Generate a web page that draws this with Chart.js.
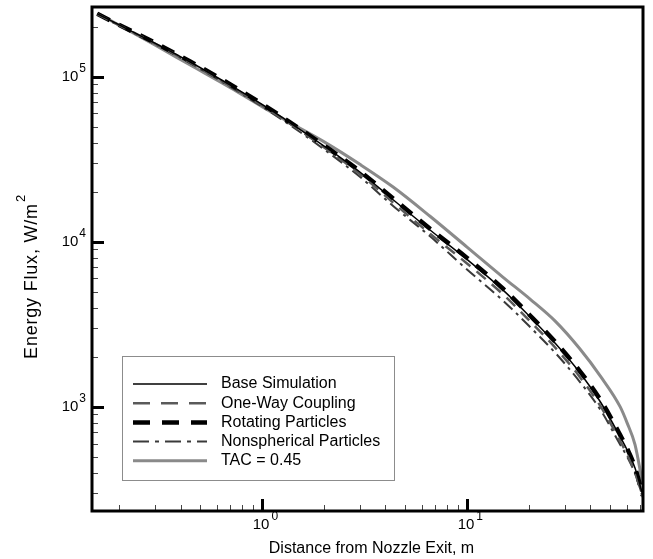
<!DOCTYPE html>
<html>
<head>
<meta charset="utf-8">
<script src="https://cdn.jsdelivr.net/npm/chart.js@4"></script>
<style>
  html, body { margin: 0; padding: 0; background: #fff; }
  #wrap { width: 653px; height: 559px; position: relative; }
</style>
</head>
<body>
<div id="wrap"><canvas id="fluxChart"></canvas></div>
<script>
// distance from nozzle exit, m
const distance = [0.157, 0.2, 0.3, 0.446, 0.7, 1.0, 1.37, 2, 3, 4.36, 6.6, 10, 15, 20.3, 27, 35.5, 45, 55.9, 60.4, 66, 72];

// energy flux, W/m^2
const baseSim      = [241000, 207000, 160000, 123000, 89000, 68000, 52700, 38200, 26500, 18000, 11800, 7830, 5100, 3510, 2420, 1610, 1060, 658, 548, 427, 293];
const oneWay       = [240000, 206000, 159000, 122000, 88000, 67000, 52000, 37500, 25800, 17300, 11200, 7400, 4800, 3300, 2280, 1520, 1000, 620, 515, 400, 285];
const rotating     = [241000, 207000, 161000, 124000, 90000, 68500, 53000, 38500, 26800, 18300, 12000, 8000, 5200, 3580, 2470, 1650, 1090, 675, 560, 430, 290];
const nonspherical = [240000, 205000, 158000, 121000, 87000, 66000, 51000, 36500, 24800, 16500, 10800, 6800, 4400, 3050, 2120, 1420, 950, 590, 500, 395, 285];
const tac045       = [243000, 206000, 156000, 118000, 86000, 66000, 52700, 40500, 29500, 21500, 14300, 9300, 6100, 4500, 3300, 2250, 1520, 1000, 800, 590, 340];

const seriesLabels = ['Base Simulation', 'One-Way Coupling', 'Rotating Particles', 'Nonspherical Particles', 'TAC = 0.45'];

const FONT = '"Liberation Sans", Arial, sans-serif';

function pts(ys) {
    return distance.map((d, i) => ({ x: d, y: ys[i] }));
}

// frame, inside ticks, 10^n labels, axis titles and boxed legend
const plotDecor = {
    id: 'plotDecor',
    afterDatasetsDraw(chart) {
        const { ctx, chartArea: a, scales } = chart;
        const sx = scales.x, sy = scales.y;
        ctx.save();

        // minor + major ticks, bottom axis
        for (let d = -1; d <= 1; d++) {
            for (let m = 1; m <= 9; m++) {
                const v = m * Math.pow(10, d);
                if (v < sx.min || v > sx.max) continue;
                const px = Math.round(sx.getPixelForValue(v)) + 0.5;
                ctx.beginPath();
                if (m === 1) { ctx.lineWidth = 3; ctx.strokeStyle = '#000'; ctx.moveTo(px, a.bottom); ctx.lineTo(px, a.bottom - 12); }
                else { ctx.lineWidth = 1; ctx.strokeStyle = '#444'; ctx.moveTo(px, a.bottom); ctx.lineTo(px, a.bottom - 6); }
                ctx.stroke();
            }
        }
        // left axis
        for (let d = 2; d <= 5; d++) {
            for (let m = 1; m <= 9; m++) {
                const v = m * Math.pow(10, d);
                if (v < sy.min || v > sy.max) continue;
                const py = Math.round(sy.getPixelForValue(v)) + 0.5;
                ctx.beginPath();
                if (m === 1) { ctx.lineWidth = 3; ctx.strokeStyle = '#000'; ctx.moveTo(a.left, py); ctx.lineTo(a.left + 12, py); }
                else { ctx.lineWidth = 1; ctx.strokeStyle = '#444'; ctx.moveTo(a.left, py); ctx.lineTo(a.left + 6, py); }
                ctx.stroke();
            }
        }

        // frame
        ctx.strokeStyle = '#000';
        ctx.lineWidth = 3;
        ctx.strokeRect(a.left, a.top, a.right - a.left, a.bottom - a.top);

        // tick labels
        ctx.fillStyle = '#000';
        ctx.textBaseline = 'middle';
        const big = '15px ' + FONT, small = '12px ' + FONT;
        [0, 1].forEach(e => {
            const px = sx.getPixelForValue(Math.pow(10, e));
            ctx.font = big;
            const w = ctx.measureText('10').width;
            ctx.textAlign = 'left';
            ctx.fillText('10', px - w / 2 - 1, a.bottom + 14);
            ctx.font = small;
            ctx.fillText(String(e), px + w / 2 + 1, a.bottom + 6);
        });
        [3, 4, 5].forEach(e => {
            const py = sy.getPixelForValue(Math.pow(10, e));
            ctx.font = small;
            const ew = ctx.measureText(String(e)).width;
            ctx.textAlign = 'right';
            ctx.fillText(String(e), a.left - 6, py - 8);
            ctx.font = big;
            ctx.fillText('10', a.left - 7 - ew, py);
        });

        // axis titles
        ctx.font = '16px ' + FONT;
        ctx.textAlign = 'center';
        ctx.fillText('Distance from Nozzle Exit, m', (a.left + a.right) / 2 + 4, a.bottom + 38);

        ctx.save();
        ctx.translate(32, 277);
        ctx.rotate(-Math.PI / 2);
        ctx.letterSpacing = '0.8px';
        ctx.font = '18px ' + FONT;
        const t1 = 'Energy Flux, W/m';
        const w1 = ctx.measureText(t1).width;
        ctx.font = '13px ' + FONT;
        const w2 = ctx.measureText('2').width;
        const x0 = -(w1 + w2) / 2;
        ctx.textAlign = 'left';
        ctx.font = '18px ' + FONT;
        ctx.fillText(t1, x0, 0);
        ctx.font = '13px ' + FONT;
        ctx.fillText('2', x0 + w1 + 1, -11);
        ctx.restore();

        // legend
        const lx = 122, ly = 356, lw = 272, lh = 124;
        ctx.fillStyle = '#fff';
        ctx.fillRect(lx, ly, lw, lh);
        ctx.strokeStyle = '#8c8c8c';
        ctx.lineWidth = 1;
        ctx.strokeRect(lx + 0.5, ly + 0.5, lw, lh);
        chart.data.datasets.forEach((ds, i) => {
            const ry = 384 + i * 19.2;
            ctx.beginPath();
            ctx.strokeStyle = ds.borderColor;
            ctx.lineWidth = ds.borderWidth;
            ctx.setLineDash(ds.legendDash || []);
            ctx.moveTo(133, ry);
            ctx.lineTo(207, ry);
            ctx.stroke();
            ctx.setLineDash([]);
            ctx.fillStyle = '#000';
            ctx.font = '16px ' + FONT;
            ctx.textAlign = 'left';
            ctx.fillText(ds.label, 221, ry);
        });

        ctx.restore();
    }
};

new Chart(document.getElementById('fluxChart'), {
    type: 'line',
    data: {
        datasets: [
            { label: seriesLabels[0], data: pts(baseSim), borderColor: '#000', borderWidth: 1.5, borderDash: [], legendDash: [] },
            { label: seriesLabels[1], data: pts(oneWay), borderColor: '#5a5a5a', borderWidth: 2.5, borderDash: [12, 8], legendDash: [17, 11] },
            { label: seriesLabels[2], data: pts(rotating), borderColor: '#000', borderWidth: 4.5, borderDash: [14, 10], legendDash: [17, 12] },
            { label: seriesLabels[3], data: pts(nonspherical), borderColor: '#3a3a3a', borderWidth: 2, borderDash: [12, 5, 3, 5], legendDash: [16, 6, 4, 6] },
            { label: seriesLabels[4], data: pts(tac045), borderColor: '#8a8a8a', borderWidth: 3, borderDash: [], legendDash: [] }
        ]
    },
    options: {
        responsive: true,
        maintainAspectRatio: false,
        animation: false,
        layout: { padding: { left: 92, right: 10, top: 7, bottom: 48 } },
        elements: {
            point: { radius: 0 },
            line: { cubicInterpolationMode: 'monotone', fill: false }
        },
        plugins: { legend: { display: false }, tooltip: { enabled: false } },
        scales: {
            x: { type: 'logarithmic', min: 0.148, max: 72.2, display: false },
            y: { type: 'logarithmic', min: 234, max: 265000, display: false }
        }
    },
    plugins: [plotDecor]
});
</script>
</body>
</html>
